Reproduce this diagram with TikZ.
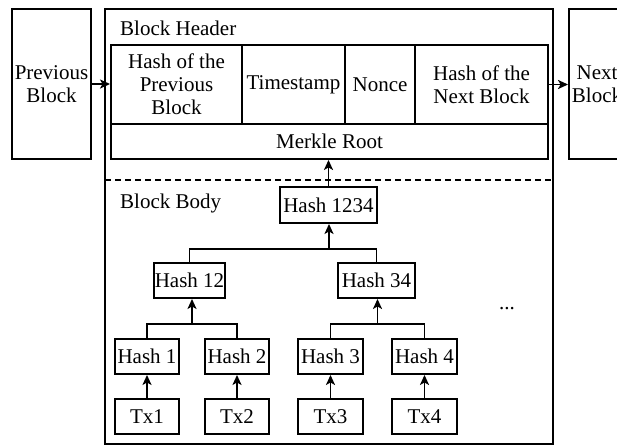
\documentclass[tikz,border=0pt]{standalone}
\usepackage{fontspec}
\setmainfont{Liberation Serif}
\usetikzlibrary{arrows.meta}
\begin{document}
\begin{tikzpicture}[x=1pt,y=-1pt,
  box/.style={draw, line width=1.9pt, inner sep=0pt, align=center},
  lbl/.style={inner sep=0pt, anchor=west},
  arr/.style={line width=1.9pt, -{Stealth[length=10pt,width=9pt,inset=2.5pt]}},
  link/.style={line width=1.9pt},
  font=\fontsize{21}{23}\selectfont]
\useasboundingbox (0,0) rectangle (617,445);
% outer blocks
\node[box, minimum width=79pt, minimum height=150pt] (prev) at (51.5,84) {Previous\\Block};
\node[box, minimum width=448pt, minimum height=435pt] (main) at (329,226.5) {};
\node[box, minimum width=56pt, minimum height=150pt] (next) at (597,84) {Next\\Block};
\node[lbl] (hdr) at (120,28) {Block Header};
\node[lbl] (bdy) at (120,203) {Block Body};
% header table
\node[box, minimum width=131pt, minimum height=79pt] (hprev) at (176.5,84.5) {Hash of the\\Previous\\Block};
\node[box, minimum width=103pt, minimum height=79pt] (ts) at (293.5,84.5) {Timestamp};
\node[box, minimum width=70pt, minimum height=79pt] (nonce) at (380,84.5) {Nonce};
\node[box, minimum width=133pt, minimum height=79pt] (hnext) at (481.5,84.5) {Hash of the\\Next Block};
\node[box, minimum width=437pt, minimum height=35pt] (merkle) at (329.5,141.5) {Merkle Root};
% separator
\coordinate (sepL) at (105,180);
\coordinate (sepR) at (553,180);
\draw[line width=1.9pt, dash pattern=on 6pt off 4pt] (sepL) -- (sepR);
% tree
\node[box, minimum width=97pt, minimum height=36pt] (h1234) at (328.5,205) {Hash 1234};
\node[box, minimum width=71pt, minimum height=35pt] (h12) at (189.5,280.5) {Hash 12};
\node[box, minimum width=77pt, minimum height=35pt] (h34) at (376.5,280.5) {Hash 34};
\node[box, minimum width=64pt, minimum height=35pt] (h1) at (147,356.5) {Hash 1};
\node[box, minimum width=64pt, minimum height=35pt] (h2) at (237,356.5) {Hash 2};
\node[box, minimum width=65pt, minimum height=35pt] (h3) at (330.5,356.5) {Hash 3};
\node[box, minimum width=65pt, minimum height=35pt] (h4) at (424.5,356.5) {Hash 4};
\node[box, minimum width=64pt, minimum height=35pt] (t1) at (147,416.5) {Tx1};
\node[box, minimum width=64pt, minimum height=35pt] (t2) at (237,416.5) {Tx2};
\node[box, minimum width=65pt, minimum height=35pt] (t3) at (330.5,416.5) {Tx3};
\node[box, minimum width=65pt, minimum height=35pt] (t4) at (424.5,416.5) {Tx4};
\node[inner sep=0pt] (dots) at (507,309) {...};
% arrows between blocks
\draw[arr] (prev.east) -- (prev.east -| hprev.west);
\draw[arr] (hnext.east) -- (hnext.east -| next.west);
\draw[arr] (h1234.north) -- (h1234.north |- merkle.south);
% tree links
\coordinate (j0) at (329,249);
\coordinate (j12) at (192,324);
\coordinate (j34) at (377.5,324);
\draw[link] (h12.north) |- (j0) -| (h34.north);
\draw[arr] (j0) -- (j0 |- h1234.south);
\draw[link] (h1.north) |- (j12) -| (h2.north);
\draw[arr] (j12) -- (j12 |- h12.south);
\draw[link] (h3.north) |- (j34) -| (h4.north);
\draw[arr] (j34) -- (j34 |- h34.south);
\draw[arr] (t1.north) -- (h1.south);
\draw[arr] (t2.north) -- (h2.south);
\draw[arr] (t3.north) -- (h3.south);
\draw[arr] (t4.north) -- (h4.south);
\end{tikzpicture}
\end{document}
